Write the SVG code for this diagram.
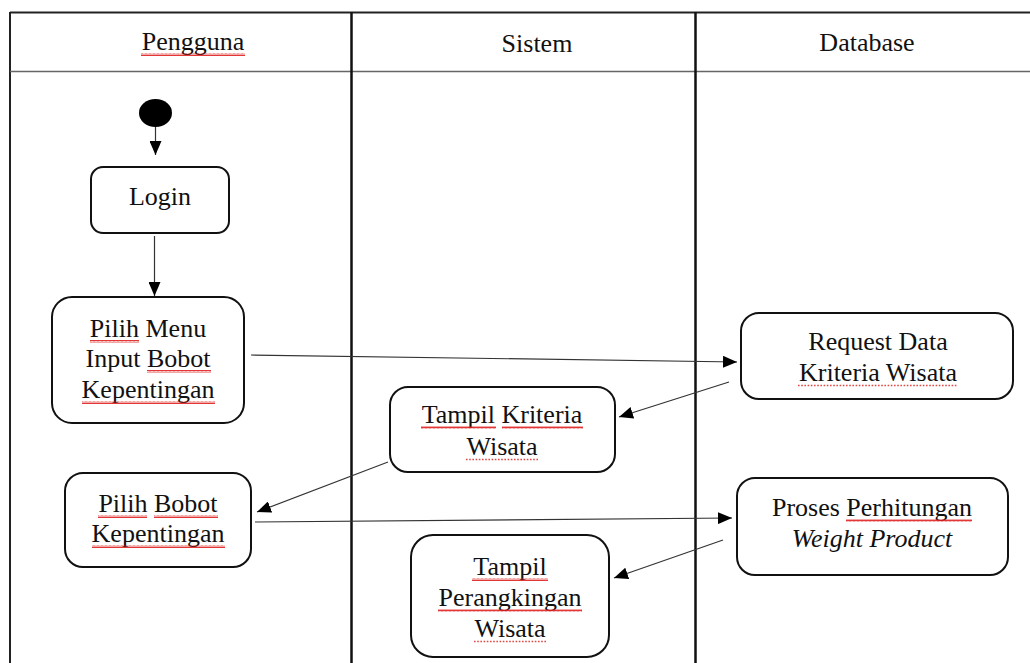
<svg xmlns="http://www.w3.org/2000/svg" width="1030" height="663" viewBox="0 0 1030 663">
  <style>
    .lane { stroke: #111; stroke-width: 2.5; fill: none; }
    .frame { stroke: #222; stroke-width: 2; fill: none; }
    .hdr { stroke: #666; stroke-width: 1.5; fill: none; }
    .box { fill: #fff; stroke: #111; stroke-width: 2; }
    .flow { stroke: #333; stroke-width: 1.2; fill: none; marker-end: url(#arrow); }
    text { font-family: "Liberation Serif", "Times New Roman", serif; font-size: 26px; fill: #111; text-anchor: middle; }
    .it { font-style: italic; }
    .dots { stroke: #e04848; stroke-width: 1.3; stroke-dasharray: 1.6 1.6; fill: none; }
  </style>
  <defs>
    <marker id="arrow" markerUnits="userSpaceOnUse" markerWidth="14" markerHeight="12" refX="14" refY="6" orient="auto">
      <path d="M0,0 L14,6 L0,12 z" fill="#000"/>
    </marker>
    <!-- spell-check style wavy underline -->
    <pattern id="wave" patternUnits="userSpaceOnUse" width="4" height="3">
      <path d="M0,2.5 L1,0.5 L2,2.5 L3,0.5 L4,2.5" stroke="#e02020" stroke-width="0.9" fill="none"/>
    </pattern>
  </defs>

  <rect width="1030" height="663" fill="#fff"/>

  <!-- swimlane frame -->
  <g id="lanes">
    <line class="frame" x1="10" y1="12.5" x2="1030" y2="12.5"/>
    <line class="frame" x1="10" y1="12" x2="10" y2="663"/>
    <line class="hdr" x1="10" y1="71.5" x2="1030" y2="71.5"/>
    <line class="lane" x1="351.5" y1="12" x2="351.5" y2="663"/>
    <line class="lane" x1="695.5" y1="12" x2="695.5" y2="663"/>
    <text x="193" y="50">Pengguna</text>
    <rect x="141" y="53" width="104" height="3" fill="url(#wave)"/>
    <text x="537" y="52">Sistem</text>
    <text x="867" y="51">Database</text>
  </g>

  <!-- connectors -->
  <g id="connectors">
    <line class="flow" x1="155.5" y1="127" x2="155.5" y2="155"/>
    <line class="flow" x1="154.5" y1="236" x2="154.5" y2="296"/>
    <line class="flow" x1="251" y1="355" x2="737" y2="362"/>
    <line class="flow" x1="729" y1="382" x2="619" y2="417"/>
    <line class="flow" x1="388" y1="462" x2="257" y2="512"/>
    <line class="flow" x1="255" y1="522" x2="732" y2="518"/>
    <line class="flow" x1="723" y1="540" x2="614" y2="578"/>
  </g>

  <g id="start">
    <ellipse cx="155.5" cy="113" rx="16.5" ry="14" fill="#000"/>
  </g>

  <g id="login">
    <rect class="box" x="91" y="167" width="138" height="66" rx="12"/>
    <text x="160" y="205">Login</text>
  </g>

  <g id="pilih-menu">
    <rect class="box" x="52" y="297" width="192" height="126" rx="20"/>
    <text x="148" y="337">Pilih Menu</text>
    <text x="148" y="367">Input Bobot</text>
    <text x="148" y="398">Kepentingan</text>
    <rect x="90" y="340" width="49" height="3" fill="url(#wave)"/>
    <rect x="147" y="370" width="64" height="3" fill="url(#wave)"/>
    <rect x="82" y="401" width="133" height="3" fill="url(#wave)"/>
  </g>

  <g id="request-data">
    <rect class="box" x="741" y="313" width="272" height="86" rx="18"/>
    <text x="878" y="350">Request Data</text>
    <text x="878" y="381">Kriteria Wisata</text>
    <line class="dots" x1="798" y1="385.5" x2="958" y2="385.5"/>
  </g>

  <g id="tampil-kriteria">
    <rect class="box" x="390" y="387" width="225" height="85" rx="18"/>
    <text x="502" y="423">Tampil Kriteria</text>
    <text x="502" y="455">Wisata</text>
    <rect x="421" y="426" width="75" height="3" fill="url(#wave)"/>
    <rect x="502" y="426" width="81" height="3" fill="url(#wave)"/>
    <line class="dots" x1="466" y1="459.5" x2="538" y2="459.5"/>
  </g>

  <g id="pilih-bobot">
    <rect class="box" x="65" y="473" width="186" height="94" rx="18"/>
    <text x="158" y="512">Pilih Bobot</text>
    <text x="158" y="542">Kepentingan</text>
    <rect x="98" y="515" width="49" height="3" fill="url(#wave)"/>
    <rect x="154" y="515" width="64" height="3" fill="url(#wave)"/>
    <rect x="92" y="545" width="133" height="3" fill="url(#wave)"/>
  </g>

  <g id="proses-wp">
    <rect class="box" x="737" y="478" width="271" height="97" rx="18"/>
    <text x="872" y="516">Proses Perhitungan</text>
    <text class="it" x="872" y="547">Weight Product</text>
    <rect x="846" y="519" width="126" height="3" fill="url(#wave)"/>
  </g>

  <g id="tampil-perangkingan">
    <rect class="box" x="411" y="535" width="198" height="122" rx="22"/>
    <text x="510" y="575">Tampil</text>
    <text x="510" y="606">Perangkingan</text>
    <text x="510" y="637">Wisata</text>
    <rect x="472" y="578" width="76" height="3" fill="url(#wave)"/>
    <rect x="438" y="609" width="144" height="3" fill="url(#wave)"/>
    <line class="dots" x1="474" y1="641.5" x2="546" y2="641.5"/>
  </g>
</svg>
